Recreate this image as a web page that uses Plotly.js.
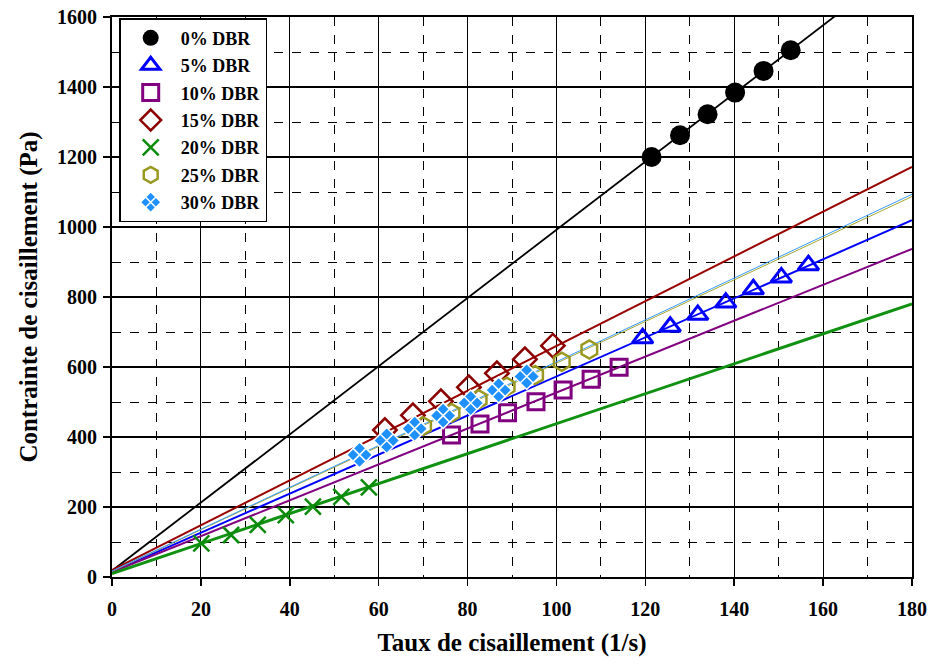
<!DOCTYPE html>
<html>
<head>
<meta charset="utf-8">
<script src="https://cdn.plot.ly/plotly-3.0.1.min.js"></script>
<style>html,body{margin:0;padding:0;background:#fff;}#chart{width:930px;height:667px;}</style>
</head>
<body>
<div id="chart"></div>
<script>
// Series names
const categories = ['0% DBR', '5% DBR', '10% DBR', '15% DBR', '20% DBR', '25% DBR', '30% DBR'];

// Measured points (shear rate 1/s, shear stress Pa)
const x0  = [121.4, 127.8, 134.0, 140.2, 146.6, 152.7];
const y0  = [1200, 1262, 1322, 1384, 1446, 1505];
const x5  = [119.4, 125.6, 131.8, 138.1, 144.3, 150.6, 156.7];
const y5  = [682, 715, 749, 784, 822, 856, 891];
const x10 = [76.4, 82.8, 89.0, 95.4, 101.5, 107.8, 114.1];
const y10 = [406, 437, 469, 501, 534, 565, 599];
const x15 = [61.4, 67.7, 74.0, 80.3, 86.6, 92.9, 99.2];
const y15 = [420, 462, 502, 542, 582, 622, 661];
const x20 = [20.1, 26.8, 32.8, 39.1, 45.2, 51.6, 57.8];
const y20 = [96, 120, 149, 177, 201, 229, 256];
const x25 = [70.0, 76.4, 82.5, 88.8, 95.2, 101.2, 107.4];
const y25 = [431, 469, 508, 544, 577, 615, 650];
const x30 = [55.7, 61.8, 68.1, 74.5, 80.7, 87.0, 93.3];
const y30 = [349, 390, 424, 461, 497, 534, 573];

// Linear fit parameters (stress = intercept + slope * rate)
const fitSlopes     = [9.74, 5.58, 5.13, 6.40, 4.28, 5.95, 5.98];
const fitIntercepts = [18, 15, 14, 20, 10, 16, 17];
const fitRange = [0, 180];

// Axis ticks
const xTicks = [0, 20, 40, 60, 80, 100, 120, 140, 160, 180];
const yTicks = [0, 200, 400, 600, 800, 1000, 1200, 1400, 1600];

const xs = [x0, x5, x10, x15, x20, x25, x30];
const ys = [y0, y5, y10, y15, y20, y25, y30];

const markerColors = ['#000000', '#0000ff', '#800080', '#8b0000', '#0a8a0a', '#999922', '#1e90ff'];
const lineColors   = ['#000000', '#0000ff', '#800080', '#990000', '#119111', '#a6a632', '#3399ff'];
const lineWidths   = [1.8, 2, 2, 2, 3, 1, 1];
const symbols = ['circle', 'triangle-up-open', 'square-open', 'diamond-open', 'x-thin-open', 'hexagon-open', 'diamond-x'];
const sizes   = [20, 18, 16, 18, 16, 18, 20];
const mlineW  = [0, 3, 3, 2.5, 2.5, 2.5, 1.5];

const FONT = 'Liberation Serif, Times New Roman, serif';
const traces = [];

// fit lines first (under markers)
categories.forEach((c, i) => {
  traces.push({
    x: fitRange,
    y: fitRange.map(v => fitIntercepts[i] + fitSlopes[i] * v),
    mode: 'lines',
    line: {color: lineColors[i], width: lineWidths[i]},
    showlegend: false,
    hoverinfo: 'skip'
  });
});

categories.forEach((c, i) => {
  traces.push({
    x: xs[i],
    y: ys[i],
    name: c,
    legendgroup: 'g' + i,
    mode: 'markers',
    marker: {
      symbol: symbols[i],
      size: sizes[i],
      color: markerColors[i],
      line: {color: i === 6 ? '#ffffff' : markerColors[i], width: mlineW[i]}
    }
  });
});

const axisCommon = {
  showline: true, linecolor: '#000', linewidth: 2, mirror: true,
  ticks: 'outside', ticklen: 7, tickwidth: 1.5, tickcolor: '#000',
  showgrid: true, gridcolor: '#000', gridwidth: 1.2,
  zeroline: false,
  tickfont: {family: FONT, size: 20, color: '#000', weight: 700}
};

const layout = {
  width: 930, height: 667,
  margin: {l: 112, r: 18, t: 17, b: 90},
  paper_bgcolor: '#fff', plot_bgcolor: '#fff',
  xaxis: Object.assign({}, axisCommon, {
    range: [0, 180], tickvals: xTicks, ticktext: xTicks.map(String),
    ticklabelstandoff: 6,
    minor: {dtick: 10, showgrid: true, gridcolor: '#000', griddash: 'dash', gridwidth: 1},
    title: {text: 'Taux de cisaillement (1/s)', standoff: 14,
            font: {family: FONT, size: 25, color: '#000', weight: 700}}
  }),
  yaxis: Object.assign({}, axisCommon, {
    range: [0, 1600], tickvals: yTicks, ticktext: yTicks.map(String),
    ticklabelstandoff: 2,
    minor: {dtick: 100, showgrid: true, gridcolor: '#000', griddash: 'dash', gridwidth: 1},
    title: {text: 'Contrainte de cisaillement (Pa)', standoff: 12,
            font: {family: FONT, size: 25, color: '#000', weight: 700}}
  }),
  legend: {
    x: 0.009, y: 0.998, xanchor: 'left', yanchor: 'top',
    bgcolor: '#fff', bordercolor: '#000', borderwidth: 1.5,
    font: {family: FONT, size: 18, color: '#000', weight: 700},
    tracegroupgap: 1, itemwidth: 50
  },
  showlegend: true
};

Plotly.newPlot('chart', traces, layout, {displayModeBar: false, staticPlot: true});
</script>
</body>
</html>
